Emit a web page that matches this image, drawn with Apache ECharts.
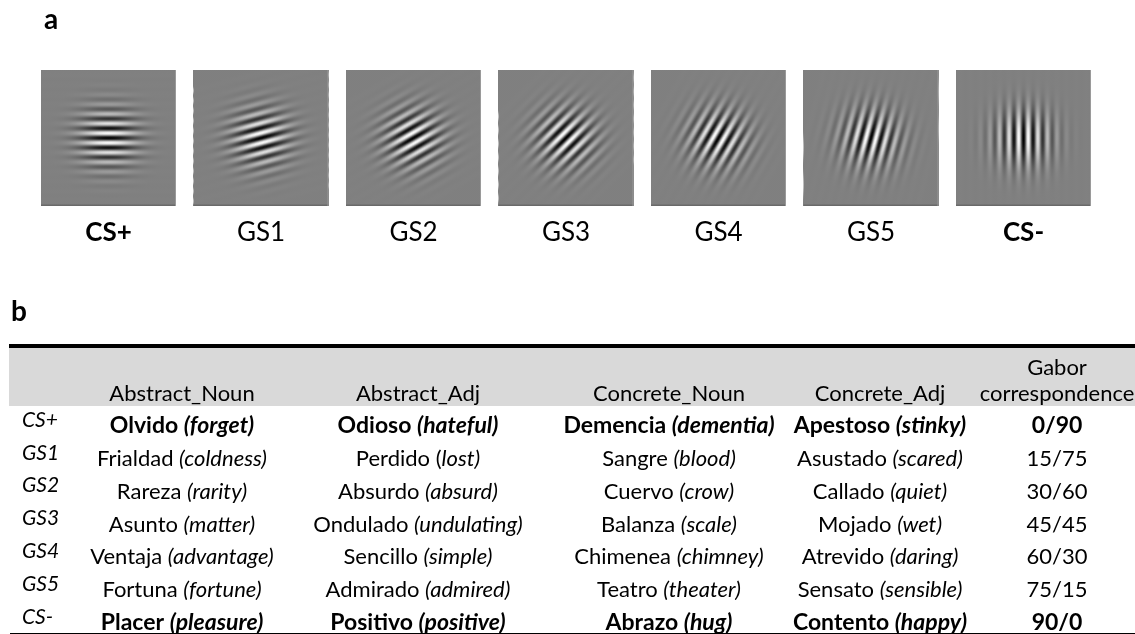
<!DOCTYPE html>
<html><head><meta charset="utf-8">
<script src="https://cdn.jsdelivr.net/npm/echarts@6/dist/echarts.min.js"></script>
<style>html,body{margin:0;padding:0;background:#fff}#c{width:1135px;height:634px}</style>
</head><body><div id="c"></div>
<script>
// ---------- data ----------
const patchNames = ['CS+', 'GS1', 'GS2', 'GS3', 'GS4', 'GS5', 'CS-'];
const patchOrientation = [0, 15, 30, 45, 60, 75, 90];
const rowLabels = ['CS+', 'GS1', 'GS2', 'GS3', 'GS4', 'GS5', 'CS-'];
const boldRows = ['CS+', 'CS-'];
const columnHeaders = ['Abstract_Noun', 'Abstract_Adj', 'Concrete_Noun', 'Concrete_Adj', 'Gabor\ncorrespondence'];
const abstractNoun = [['Olvido', '(forget)'], ['Frialdad', '(coldness)'], ['Rareza', '(rarity)'], ['Asunto', '(matter)'], ['Ventaja', '(advantage)'], ['Fortuna', '(fortune)'], ['Placer', '(pleasure)']];
const abstractAdj = [['Odioso', '(hateful)'], ['Perdido (', 'lost)'], ['Absurdo', '(absurd)'], ['Ondulado', '(undulating)'], ['Sencillo', '(simple)'], ['Admirado', '(admired)'], ['Positivo', '(positive)']];
const concreteNoun = [['Demencia', '(dementia)'], ['Sangre', '(blood)'], ['Cuervo', '(crow)'], ['Balanza', '(scale)'], ['Chimenea', '(chimney)'], ['Teatro', '(theater)'], ['Abrazo', '(hug)']];
const concreteAdj = [['Apestoso', '(stinky)'], ['Asustado', '(scared)'], ['Callado', '(quiet)'], ['Mojado', '(wet)'], ['Atrevido', '(daring)'], ['Sensato', '(sensible)'], ['Contento', '(happy)']];
const gaborCorrespondence = ['0/90', '15/75', '30/60', '45/45', '60/30', '75/15', '90/0'];

// ---------- styling / layout ----------
const FONT = 'Lato, "Open Sans", sans-serif';
const TFS = 22;
const BFS = 23;
const COL_X = [182, 418, 669, 880, 1057];
const ROW_LABEL_X = 22;
const wordColumns = [abstractNoun, abstractAdj, concreteNoun, concreteAdj];

// texture of a Gabor patch (visual style): sinusoidal grating + gaussian envelope
const CYCLES = 14, STEPS = 12;
const gratingStops = [];
for (let k = 0; k <= CYCLES * STEPS; k++) {
  const t = k / (CYCLES * STEPS);
  const v = -Math.cos(2 * Math.PI * CYCLES * (t - 0.5));
  const g = Math.round(128 + 127 * v);
  gratingStops.push({ offset: t, color: `rgb(${g},${g},${g})` });
}
const SIG = 0.285;
const envelopeStops = [];
for (let k = 0; k <= 25; k++) {
  const t = k / 25;
  const a = 1 - Math.exp(-(t * t) / (2 * SIG * SIG));
  envelopeStops.push({ offset: t, color: `rgba(128,128,128,${a.toFixed(4)})` });
}

const rich = {
  r: { fontFamily: FONT, fontSize: TFS, fill: '#000', color: '#000' },
  i: { fontFamily: FONT, fontSize: TFS, fontStyle: 'italic', fill: '#000', color: '#000' },
  b: { fontFamily: FONT, fontSize: BFS, fontWeight: 'bold', fill: '#000', color: '#000' },
  bi: { fontFamily: FONT, fontSize: BFS, fontWeight: 'bold', fontStyle: 'italic', fill: '#000', color: '#000' }
};

function cellText(pair, bold) {
  const es = pair[0], en = pair[1];
  const sep = es.endsWith('(') ? '' : ' ';
  return bold ? `{b|${es}${sep}}{bi|${en}}` : `{r|${es}${sep}}{i|${en}}`;
}

function gaborItem(params, api) {
  const idx = api.value(0), ori = api.value(1);
  const top = api.coord([idx, 1]), bot = api.coord([idx, 0]);
  const h = bot[1] - top[1];
  const w = h - 1;
  const x = top[0] - w / 2, y = top[1];
  const th = ori * Math.PI / 180;
  const dx = Math.sin(th) / 2, dy = Math.cos(th) / 2;
  return {
    type: 'group',
    children: [
      { type: 'rect', shape: { x, y, width: w, height: h },
        style: { fill: { type: 'linear', x: 0.5 - dx, y: 0.5 - dy, x2: 0.5 + dx, y2: 0.5 + dy, colorStops: gratingStops } } },
      { type: 'rect', shape: { x, y, width: w, height: h },
        style: { fill: { type: 'radial', x: 0.5, y: 0.5, r: 0.5, colorStops: envelopeStops } } },
      { type: 'rect', shape: { x, y: y + h - 1.5, width: w, height: 1.5 }, style: { fill: '#6a6a6a' } },
      { type: 'rect', shape: { x: x + w - 1, y, width: 1, height: h }, style: { fill: '#9a9a9a' } }
    ]
  };
}

function tableRowItem(params, api) {
  const r = api.value(1);
  const yc = api.coord([0, r])[1];
  const label = rowLabels[r];
  const bold = boldRows.indexOf(label) >= 0;
  const children = [];
  children.push({ type: 'text', x: ROW_LABEL_X, y: yc - 6,
    style: { text: label, font: `italic 21px ${FONT}`, fill: '#000', align: 'left', verticalAlign: 'middle' } });
  wordColumns.forEach((col, c) => {
    children.push({ type: 'text', x: COL_X[c], y: yc,
      style: { text: cellText(col[r], bold), rich, align: 'center', verticalAlign: 'middle' } });
  });
  children.push({ type: 'text', x: COL_X[4], y: yc,
    style: { text: bold ? `{b|${gaborCorrespondence[r]}}` : `{r|${gaborCorrespondence[r]}}`, rich, align: 'center', verticalAlign: 'middle' } });
  return { type: 'group', children };
}

// header texts
const headerGraphics = [];
columnHeaders.forEach((h, c) => {
  const lines = h.split('\n');
  lines.forEach((ln, k) => {
    headerGraphics.push({ type: 'text', x: COL_X[c], y: 394 - (lines.length - 1 - k) * 26,
      style: { text: ln, font: `${TFS}px ${FONT}`, fill: '#000', align: 'center', verticalAlign: 'middle' }, z: 10 });
  });
});

const chart = echarts.init(document.getElementById('c'), null, { renderer: 'canvas' });
chart.setOption({
  backgroundColor: '#fff',
  animation: false,
  grid: [
    { left: 32.25, width: 1067.5, top: 70, height: 136, outerBoundsMode: 'none', containLabel: false },
    { left: 0, right: 0, top: 426, bottom: 11, outerBoundsMode: 'none', containLabel: false }
  ],
  xAxis: [
    { type: 'category', gridIndex: 0, data: patchNames,
      axisLine: { show: false }, axisTick: { show: false }, splitLine: { show: false },
      axisLabel: { margin: 27, verticalAlign: 'middle', interval: 0,
        formatter: v => boldRows.indexOf(v) >= 0 ? `{b|${v}}` : `{n|${v}}`,
        rich: {
          b: { fontFamily: FONT, fontSize: 26, fontWeight: 'bold', color: '#000' },
          n: { fontFamily: FONT, fontSize: 26, color: '#000' }
        } } },
    { type: 'value', gridIndex: 1, min: 0, max: 1, show: false }
  ],
  yAxis: [
    { type: 'value', gridIndex: 0, min: 0, max: 1, show: false },
    { type: 'category', gridIndex: 1, data: rowLabels, inverse: true, boundaryGap: false, show: false }
  ],
  graphic: [
    { type: 'text', x: 44, y: 19.5, style: { text: 'a', font: `bold 28px ${FONT}`, fill: '#000', verticalAlign: 'middle' } },
    { type: 'text', x: 11, y: 311.5, style: { text: 'b', font: `bold 28px ${FONT}`, fill: '#000', verticalAlign: 'middle' } },
    { type: 'rect', shape: { x: 9, y: 348, width: 1126, height: 58 }, style: { fill: '#D9D9D9' }, z: 1 },
    { type: 'rect', shape: { x: 9, y: 344, width: 1126, height: 4 }, style: { fill: '#000' }, z: 2 },
    { type: 'rect', shape: { x: 10, y: 633, width: 1125, height: 1 }, style: { fill: '#000' }, z: 20 },
    ...headerGraphics
  ],
  series: [
    { type: 'custom', xAxisIndex: 0, yAxisIndex: 0, clip: false,
      data: patchOrientation.map((o, i) => [i, o]), renderItem: gaborItem },
    { type: 'custom', xAxisIndex: 1, yAxisIndex: 1, clip: false,
      data: rowLabels.map((_, i) => [0, i]), renderItem: tableRowItem }
  ]
});
</script>
</body></html>
